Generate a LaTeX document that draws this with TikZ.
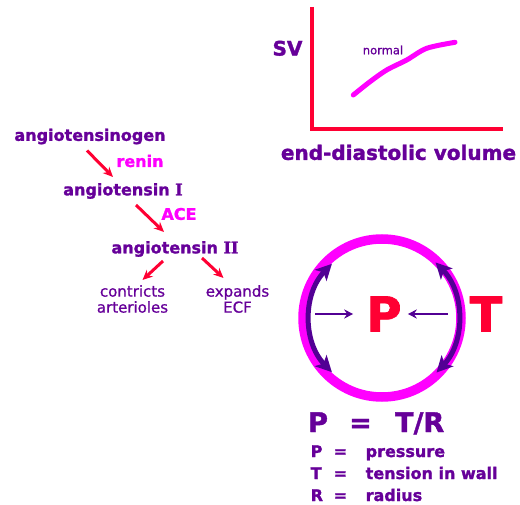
\documentclass[tikz,border=0pt]{standalone}
\usepackage{fontspec}
\setmainfont{DejaVu Sans}[BoldFeatures={FakeBold=1.5}]
\newfontfamily\numfont{DejaVu Serif}[BoldFeatures={FakeBold=1.5}]
\newfontfamily\effectfont{DejaVu Sans}[FakeBold=0.9]
\usetikzlibrary{arrows.meta, calc}
\definecolor{cpurple}{HTML}{660099}
\definecolor{cmagenta}{HTML}{FF00FF}
\definecolor{cred}{HTML}{FF0033}
\definecolor{cdark}{HTML}{520094}
\tikzset{
  every picture/.style={x=1pt, y=-1pt},
  hormone/.style={text=cpurple, inner sep=0pt, font=\fontsize{16}{19}\selectfont\bfseries},
  enzyme/.style={text=cmagenta, inner sep=0pt, font=\fontsize{16}{19}\selectfont\bfseries},
  effect/.style={text=cpurple, inner sep=0pt, align=center, font=\effectfont\fontsize{15}{16}\selectfont},
  axislabel/.style={text=cpurple, inner sep=0pt, font=\fontsize{20}{24}\selectfont\bfseries},
  arrow/.style={-{Stealth[length=10pt, width=9pt]}, draw=cred, line width=3pt},
  axis/.style={draw=cred, line width=4.5pt},
  force/.style={{Stealth[length=16pt, width=16pt, inset=4pt]}-{Stealth[length=16pt, width=16pt, inset=4pt]}, draw=cdark, line width=5pt},
  push/.style={-{Stealth[length=9pt, width=9pt]}, draw=cdark, line width=2.5pt},
  big/.style={text=cred, inner sep=0pt, font=\fontsize{48}{52}\selectfont\bfseries},
  law/.style={text=cpurple, inner sep=0pt, anchor=base west, font=\fontsize{16}{19}\selectfont\bfseries},
}

\begin{document}
\begin{tikzpicture}
  \useasboundingbox (0,0) rectangle (520,505);
  % cascade
  \node[hormone] (agen) at (90,136.5) {angiotensinogen};
  \node[enzyme] (renin) at (140,161) {renin};
  \node[hormone] (ang1) at (123,191) {angiotensin {\numfont I}};
  \node[enzyme] (ace) at (179,214) {ACE};
  \node[hormone] (ang2) at (175,249) {angiotensin {\numfont II}};
  \node[effect] (constr) at (132.5,299) {contricts\\arterioles};
  \node[effect] (expand) at (237.5,299) {expands\\ECF};
  \draw[arrow] ([xshift=-3pt, yshift=-6pt]agen.south) -- ([xshift=-10pt, yshift=6pt]ang1.north);
  \draw[arrow] ([xshift=13pt, yshift=-6pt]ang1.south) -- ([xshift=-11pt, yshift=9pt]ang2.north);
  \draw[arrow] ([xshift=-12pt, yshift=-4pt]ang2.south) -- ([xshift=10pt, yshift=5pt]constr.north);
  \draw[arrow] ([xshift=27pt, yshift=-1pt]ang2.south) -- ([xshift=-14pt, yshift=7pt]expand.north);

  % Starling curve
  \coordinate (origin) at (312,129);
  \coordinate (ytop) at (312,7);
  \coordinate (xend) at (503,129);
  \draw[axis] (ytop) -- (origin) -- (xend);
  \node[axislabel] (sv) at (287.5,48.3) {SV};
  \node[axislabel] (edv) at (398.5,152.4) {end-diastolic volume};
  \node[text=cpurple, inner sep=0pt, font=\effectfont\fontsize{11.5}{14}\selectfont] (normal) at (383,50) {normal};
  \draw[cmagenta, line width=5pt, line cap=round] plot[smooth] coordinates {(353.3,95) (370,81.7) (386.7,70) (406.7,60) (426.7,48.3) (455,42.3)};

  % Laplace
  \node[circle, draw=cmagenta, line width=9.5pt, minimum size=158pt, inner sep=0pt, outer sep=0pt] (ring) at (382,318) {};
  \draw[force] ([shift={(136:78pt)}, xshift=6pt]ring.center) arc[start angle=136, end angle=224, radius=78pt];
  \draw[force] ([shift={(44:80pt)}, xshift=-4pt]ring.center) arc[start angle=44, end angle=-43, radius=80pt];
  \node[big] (pnode) at (384,314) {P};
  \node[big] (tnode) at (486,314) {T};
  \draw[push] ($(ring.west |- pnode.west)+(12,0)$) -- ($(pnode.west)+(-13,0)$);
  \draw[push] ($(ring.east |- pnode.east)+(-13,0)$) -- ($(pnode.east)+(6,0)$);

  \node[law, font=\fontsize{27}{30}\selectfont\bfseries] (law) at (308,432) {\makebox[41pt][l]{P}\makebox[46pt][l]{=}T/R};
  \node[law] (lawp) at (310.5,457) {\makebox[23pt][l]{P}\makebox[32pt][l]{=}pressure};
  \node[law] (lawt) at (310.5,479) {\makebox[23pt][l]{T}\makebox[32pt][l]{=}tension in wall};
  \node[law] (lawr) at (310.5,501) {\makebox[23pt][l]{R}\makebox[32pt][l]{=}radius};
\end{tikzpicture}
\end{document}
